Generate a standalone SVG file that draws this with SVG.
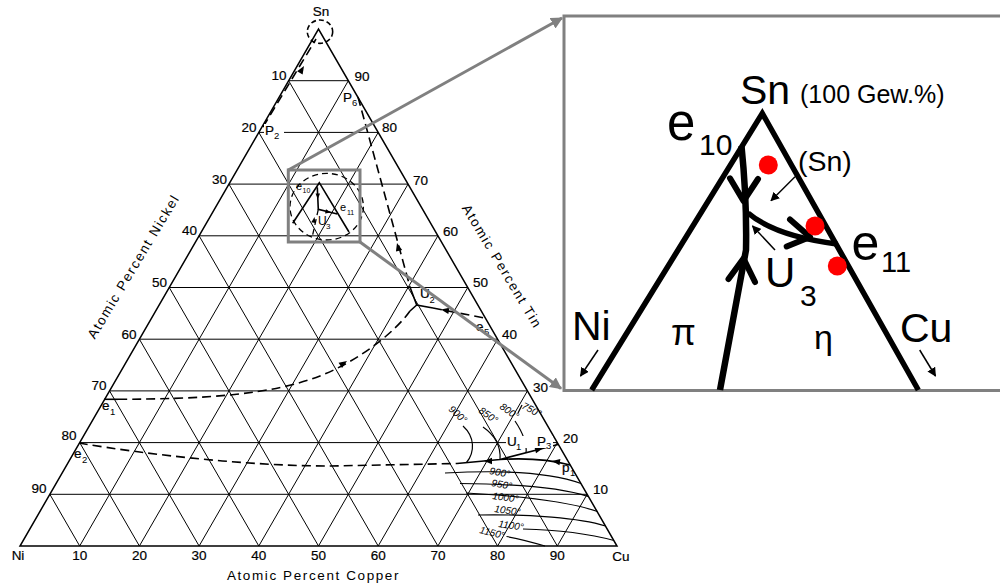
<svg xmlns="http://www.w3.org/2000/svg" width="1000" height="585" viewBox="0 0 1000 585">
<defs>
<style>
.grid{stroke:#000;stroke-width:1;fill:none}
.edge{stroke:#000;stroke-width:1.5;fill:none}
.dash{stroke:#000;stroke-width:1.6;stroke-dasharray:9 5;fill:none}
.sol{stroke:#000;stroke-width:1.6;fill:none}
.iso{stroke:#000;stroke-width:1.2;fill:none}
.t{font-family:"Liberation Sans",Arial,sans-serif;font-size:13.5px;fill:#000;stroke:#000;stroke-width:0.2}
.ts{font-family:"Liberation Sans",Arial,sans-serif;font-size:9.5px;fill:#000}
.ti{font-family:"Liberation Sans",Arial,sans-serif;font-size:10px;font-style:italic;fill:#000}
.ax{font-family:"Liberation Sans",Arial,sans-serif;font-size:13.5px;letter-spacing:1.6px;fill:#000}
.grey{stroke:#808080;stroke-width:3;fill:none}
.big{font-family:"Liberation Sans",Arial,sans-serif;fill:#000}
.thick{stroke:#000;stroke-width:5.5;fill:none;stroke-linejoin:miter}
.chev{stroke:#000;stroke-width:6;fill:none;stroke-linecap:round;stroke-linejoin:round}
.thin{stroke:#000;stroke-width:1.5;fill:none}
.dot{fill:#ff0000}
</style>
<path id="ah" d="M0,0 L-8,-3.2 L-8,3.2 Z" fill="#000"/>
<marker id="ga" viewBox="0 0 10 10" refX="9" refY="5" markerWidth="4" markerHeight="4" orient="auto" markerUnits="strokeWidth"><path d="M0,0 L10,5 L0,10 Z" fill="#808080"/></marker>
<marker id="ba" viewBox="0 0 10 10" refX="9" refY="5" markerWidth="6" markerHeight="6" orient="auto" markerUnits="strokeWidth"><path d="M0,0 L10,5 L0,10 Z" fill="#000"/></marker>
</defs>
<rect width="1000" height="585" fill="#fff"/>

<g id="grid">
<path class="grid" d="M49.85,494.3H587.15M79.7,442.6H557.3M109.55,390.9H527.45M139.4,339.2H497.6M169.25,287.5H467.75M199.1,235.8H437.9M228.95,184.1H408.05M258.8,132.4H378.2M288.65,80.7H348.35"/>
<path class="grid" d="M79.7,546L348.35,80.7M139.4,546L378.2,132.4M199.1,546L408.05,184.1M258.8,546L437.9,235.8M318.5,546L467.75,287.5M378.2,546L497.6,339.2M437.9,546L527.45,390.9M497.6,546L557.3,442.6M557.3,546L587.15,494.3"/>
<path class="grid" d="M557.3,546L288.65,80.7M497.6,546L258.8,132.4M437.9,546L228.95,184.1M378.2,546L199.1,235.8M318.5,546L169.25,287.5M258.8,546L139.4,339.2M199.1,546L109.55,390.9M139.4,546L79.7,442.6M79.7,546L49.85,494.3"/>
<path class="edge" d="M20,546L617,546L318.5,29Z"/>
</g>

<g id="tick-labels" class="t">
<text x="18" y="560" text-anchor="middle">Ni</text>
<text x="79.7" y="560" text-anchor="middle">10</text>
<text x="139.4" y="560" text-anchor="middle">20</text>
<text x="199.1" y="560" text-anchor="middle">30</text>
<text x="258.8" y="560" text-anchor="middle">40</text>
<text x="318.5" y="560" text-anchor="middle">50</text>
<text x="378.2" y="560" text-anchor="middle">60</text>
<text x="437.9" y="560" text-anchor="middle">70</text>
<text x="497.6" y="560" text-anchor="middle">80</text>
<text x="557.3" y="560" text-anchor="middle">90</text>
<text x="621" y="561" text-anchor="middle">Cu</text>
<text x="321" y="16" text-anchor="middle">Sn</text>
<text x="286.5" y="80" text-anchor="end">10</text>
<text x="256.5" y="132" text-anchor="end">20</text>
<text x="227" y="184" text-anchor="end">30</text>
<text x="197" y="235" text-anchor="end">40</text>
<text x="167" y="287" text-anchor="end">50</text>
<text x="136.5" y="338.5" text-anchor="end">60</text>
<text x="106.5" y="390" text-anchor="end">70</text>
<text x="76.5" y="440" text-anchor="end">80</text>
<text x="46.5" y="493" text-anchor="end">90</text>
<text x="354.5" y="80.5">90</text>
<text x="382" y="132">80</text>
<text x="413" y="185">70</text>
<text x="443" y="235.5">60</text>
<text x="473" y="287">50</text>
<text x="502" y="338.5">40</text>
<text x="533" y="391.5">30</text>
<text x="563" y="443">20</text>
<text x="593" y="493.5">10</text>
</g>

<g id="axis-labels" class="ax">
<text x="133.5" y="271" text-anchor="middle" transform="rotate(-59 133.5 266.5)">Atomic Percent Nickel</text>
<text x="502" y="271" text-anchor="middle" transform="rotate(59 502 266.5)">Atomic Percent Tin</text>
<text x="313.5" y="580" text-anchor="middle">Atomic Percent Copper</text>
</g>

<g id="curves">
<ellipse class="dash" cx="320" cy="31.7" rx="12.7" ry="11.7" style="stroke-dasharray:5 3"/>
<path class="dash" d="M263,127L316,39"/>
<use href="#ah" transform="translate(304,66) rotate(-59)"/>
<path class="dash" d="M358,97L410,287"/>
<use href="#ah" transform="translate(397,243) rotate(-105)"/>
<path class="sol" d="M410,287L416.7,305L433,308M416.7,305L410,311"/>
<path class="dash" d="M433,308L487,318.5"/>
<use href="#ah" transform="translate(441,309.5) rotate(190)"/>
<path class="sol" d="M104,399.3H118"/>
<path class="dash" d="M118,399.3C205,399 270,395 320,376C360,360 395,332 410,311"/>
<use href="#ah" transform="translate(347,361) rotate(-33)"/>
<path class="dash" d="M79,443C150,455 250,466 330,466L457,463.5"/>
<path class="sol" d="M457,463.5L500,459.5L558,444.5M500,459.5C525,458 548,459 570,465"/>
<use href="#ah" transform="translate(484,461) rotate(180)"/>
<use href="#ah" transform="translate(543,448.2) rotate(-14)"/>
<use href="#ah" transform="translate(552,461) rotate(188)"/>
<path class="iso" d="M463,426C475,437 475,452 466.5,462.5"/>
<path class="iso" d="M483,427C496,436 501,446 500,459.5"/>
<path class="iso" d="M515,421C523,433 527,445 526,453"/>
<path class="iso" d="M518,413L522,405"/>
<path class="iso" d="M445,473C500,470 550,472 581,483.5"/>
<path class="iso" d="M460,483.5C510,484 560,487 588,496.5"/>
<path class="iso" d="M466,493C520,496 570,502 597.5,511.5"/>
<path class="iso" d="M478,515C530,514 580,518 605.5,526"/>
<path class="iso" d="M523,529C560,530 590,534 614,540.5"/>
<path class="iso" d="M506.5,536.5C520,539 535,543 545,546"/>
</g>

<g id="iso-labels" class="ti">
<text transform="translate(448,410) rotate(42)">900°</text>
<text transform="translate(478,412) rotate(35)">850°</text>
<text transform="translate(499,408) rotate(35)">800°</text>
<text transform="translate(521,408) rotate(28)">750°</text>
<text transform="translate(489,474) rotate(10)">900°</text>
<text transform="translate(491,486) rotate(10)">950°</text>
<text transform="translate(492,499) rotate(8)">1000°</text>
<text transform="translate(494,512) rotate(8)">1050°</text>
<text transform="translate(498,527) rotate(8)">1100°</text>
<text transform="translate(479,533) rotate(14)">1150°</text>
</g>

<g id="point-labels">
<rect x="264" y="124" width="20" height="15" fill="#fff"/>
<text class="t" x="265" y="135">P</text><text class="ts" x="274" y="139">2</text>
<text class="t" x="343" y="102">P</text><text class="ts" x="352" y="106">6</text>
<text class="t" x="102" y="410">e</text><text class="ts" x="110" y="415">1</text>
<text class="t" x="74" y="458">e</text><text class="ts" x="82" y="463">2</text>
<text class="t" x="420" y="298">U</text><text class="ts" x="429.5" y="303">2</text>
<text class="t" x="476" y="331">e</text><text class="ts" x="484" y="335">5</text>
<rect x="506" y="436" width="47" height="12" fill="#fff"/>
<text class="t" x="507" y="446">U</text><text class="ts" x="516" y="450">1</text>
<text class="t" x="537" y="446">P</text><text class="ts" x="546" y="449">3</text>
<text class="t" x="562" y="472">p</text><text class="ts" x="570" y="476">1</text>
</g>

<g id="inset-source">
<ellipse cx="326.7" cy="206.7" rx="36.7" ry="33.3" fill="#fff" class="dash" style="stroke-dasharray:6 4;stroke-width:1.3"/>
<path class="sol" d="M292.7,223.3L319.3,182.7L349,232"/>
<path class="sol" d="M317.3,187.3L318.3,209.3L337.3,214"/>
<use href="#ah" transform="translate(317.8,199) rotate(90) scale(0.7)"/>
<use href="#ah" transform="translate(331,212.5) rotate(12) scale(0.7)"/>
<path class="dash" d="M318.3,209.3L312,238" style="stroke-dasharray:6 4;stroke-width:1.3"/>
<use href="#ah" transform="translate(314.5,217) rotate(-80) scale(0.7)"/>
<text class="ts" x="296" y="190" style="font-size:11px">e</text><text class="ts" x="302.5" y="193" style="font-size:7px">10</text>
<text class="ts" x="340" y="211" style="font-size:11px">e</text><text class="ts" x="347" y="215" style="font-size:7px">11</text>
<text class="ts" x="318" y="225" style="font-size:12px">U</text><text class="ts" x="326" y="229" style="font-size:8px">3</text>
<rect class="grey" x="288.3" y="170" width="71.7" height="72"/>
</g>

<g id="connectors">
<path class="grey" d="M288.3,170L562,18" marker-end="url(#ga)"/>
<path class="grey" d="M360,242L561,388.5" marker-end="url(#ga)"/>
</g>

<g id="zoom-panel">
<rect class="grey" x="564" y="16" width="440" height="374.5"/>
<path class="thick" d="M591.7,390L762.3,113.3L918.3,390"/>
<path class="thick" d="M741.5,146Q747,200 746,250L720,390" style="stroke-width:6.5"/>
<path class="thick" d="M748,213Q775,236 837,244"/>
<polyline class="chev" points="730,178.3 743.5,201 758,179"/>
<polyline class="chev" points="728.5,279 743.5,258.5 755,282"/>
<polyline class="chev" points="790,219.5 810,237 786.7,246.5"/>
<circle class="dot" cx="768.3" cy="165" r="9.5"/>
<circle class="dot" cx="815" cy="226" r="9.5"/>
<circle class="dot" cx="837.3" cy="266" r="9.5"/>
<path class="thin" d="M795,176.7L771,200.7" marker-end="url(#ba)"/>
<path class="thin" d="M775,250L752.5,226" marker-end="url(#ba)"/>
<path class="thin" d="M598,350L580.5,376" marker-end="url(#ba)"/>
<path class="thin" d="M919.7,350L935.5,376" marker-end="url(#ba)"/>
<text class="big" x="740" y="104" font-size="41">Sn</text>
<text class="big" x="800" y="103" font-size="25">(100 Gew.%)</text>
<text class="big" x="667" y="140" font-size="51">e</text><text class="big" x="699" y="155" font-size="30">10</text>
<text class="big" x="798" y="171" font-size="28.5">(Sn)</text>
<text class="big" x="851.5" y="260" font-size="50">e</text><text class="big" x="881" y="272" font-size="29">11</text>
<text class="big" x="765" y="287" font-size="42">U</text><text class="big" x="800" y="306" font-size="30">3</text>
<text class="big" x="671" y="345" font-size="36">π</text>
<text class="big" x="814" y="349" font-size="34">η</text>
<text class="big" x="572" y="340" font-size="41">Ni</text>
<text class="big" x="900" y="342" font-size="41">Cu</text>
</g>
</svg>
